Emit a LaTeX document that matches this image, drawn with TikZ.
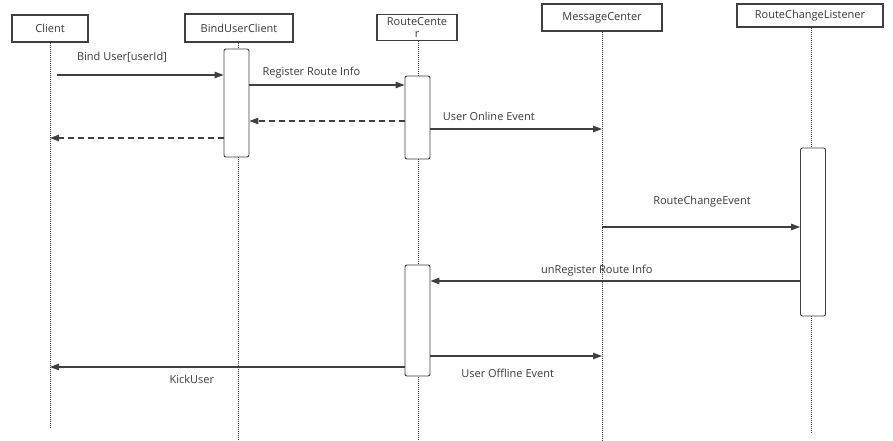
\documentclass[tikz,border=0pt]{standalone}
\usepackage{fontspec}
\setmainfont{Open Sans}
\usetikzlibrary{arrows.meta}
\definecolor{linegray}{HTML}{404040}
\definecolor{textgray}{HTML}{3a3a3a}
\tikzset{
    actor/.style={draw=linegray,line width=1.1pt,fill=white,inner sep=1pt,text=textgray,font=\fontsize{11}{12}\selectfont},
    lifeline/.style={draw=linegray,line width=0.9pt,dash pattern=on 1pt off 1pt},
    activation/.style={draw=linegray,line width=0.9pt,fill=white,rounded corners=2pt,minimum width=25pt,inner sep=0pt},
    msg/.style={draw=linegray,line width=1.1pt,-{Triangle[length=9pt,width=6.5pt]}},
    reply/.style={msg,dash pattern=on 6pt off 4pt},
    msglabel/.style={text=textgray,inner sep=0pt,font=\fontsize{11}{12}\selectfont}
}

\begin{document}
\begin{tikzpicture}[x=1pt,y=-1pt]
    \useasboundingbox (0,0) rectangle (893,441);
    % participants
    \node[actor,minimum width=76pt,minimum height=27pt] (client) at (50,28.5) {Client};
    \node[actor,minimum width=108pt,minimum height=28pt] (binduser) at (239,28) {BindUserClient};
    \node[actor,minimum width=80pt,minimum height=26pt,align=center,anchor=north,inner sep=1pt] (routecenter) at (417,14) {RouteCente\\r};
    \node[actor,minimum width=120pt,minimum height=27pt] (msgcenter) at (602,17.5) {MessageCenter};
    \node[actor,minimum width=146pt,minimum height=23pt] (listener) at (810,15.5) {RouteChangeListener};

    % lifelines
    \coordinate (clientend) at (50,427);
    \coordinate (bindend) at (238,441);
    \coordinate (routeend) at (418,441);
    \coordinate (msgend) at (602,441);
    \coordinate (listenend) at (811,433);
    \draw[lifeline] (client.south -| clientend) -- (clientend);
    \draw[lifeline] (binduser.south -| bindend) -- (bindend);
    \draw[lifeline] (routecenter.south -| routeend) -- (routeend);
    \draw[lifeline] (msgcenter.south -| msgend) -- (msgend);
    \draw[lifeline] (listener.south -| listenend) -- (listenend);

    % activations
    \node[activation,minimum height=108pt] (bindact) at (236.5,103) {};
    \node[activation,minimum height=83pt] (routeact) at (417.5,117.5) {};
    \node[activation,minimum height=111pt] (routeact2) at (417.5,320.5) {};
    \node[activation,minimum height=168pt] (listenact) at (813,232) {};

    % messages
    \coordinate (m1) at (57,75);
    \draw[msg] (m1) -- (bindact.west |- m1)
        node[msglabel,pos=0.39,yshift=18pt] {Bind User[userId]};
    \coordinate (m2) at (0,85);
    \draw[msg] (bindact.east |- m2) -- (routeact.west |- m2)
        node[msglabel,pos=0.4,yshift=12pt] {Register Route Info};
    \coordinate (m3) at (0,121);
    \draw[reply] (routeact.west |- m3) -- (bindact.east |- m3);
    \coordinate (m4) at (0,138);
    \draw[reply] (bindact.west |- m4) -- (clientend |- m4);
    \coordinate (m5) at (0,129);
    \draw[msg] (routeact.east |- m5) -- (msgend |- m5)
        node[msglabel,pos=0.34,yshift=13pt] {User Online Event};
    \coordinate (m6) at (0,227);
    \draw[msg] (msgend |- m6) -- (listenact.west |- m6)
        node[msglabel,pos=0.505,yshift=25pt] {RouteChangeEvent};
    \coordinate (m7) at (0,281);
    \draw[msg] (listenact.west |- m7) -- (routeact2.east |- m7)
        node[msglabel,pos=0.55,yshift=10pt] {unRegister Route Info};
    \coordinate (m8) at (0,356);
    \draw[msg] (routeact2.east |- m8) -- (msgend |- m8)
        node[msglabel,pos=0.45,yshift=-17pt] {User Offline Event};
    \coordinate (m9) at (0,367);
    \draw[msg] (routeact2.west |- m9) -- (clientend |- m9)
        node[msglabel,pos=0.6,yshift=-12pt] {KickUser};
\end{tikzpicture}
\end{document}
